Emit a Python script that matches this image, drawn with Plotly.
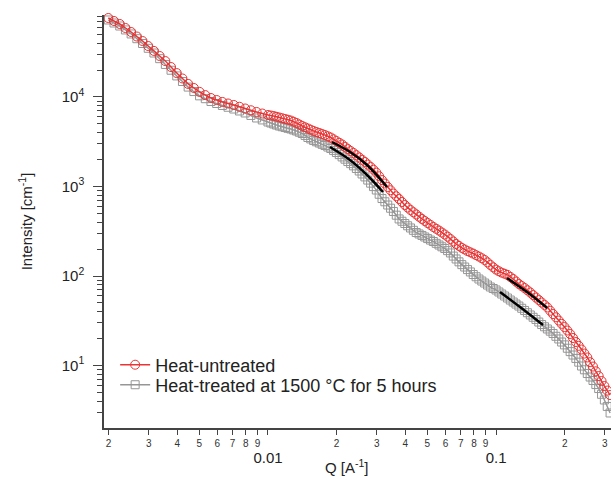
import plotly.graph_objects as go

# ---------------- data ----------------
q = [0.001995, 0.002113, 0.002239, 0.002371, 0.002512, 0.002661, 0.002818, 0.002985,
     0.003162, 0.003350, 0.003548, 0.003758, 0.003981, 0.004217, 0.004467, 0.004732,
     0.005012, 0.005309, 0.005623, 0.005957, 0.006310, 0.006683, 0.007079, 0.007499,
     0.007943, 0.008414, 0.008913, 0.009441, 0.01,
     0.010292, 0.01059, 0.010901, 0.01122, 0.011548, 0.01189, 0.012232, 0.01259,
     0.012957, 0.01334, 0.013725, 0.01413, 0.014538, 0.01496, 0.015399, 0.01585,
     0.016312, 0.01679, 0.017278, 0.01778, 0.018302, 0.01884, 0.019387, 0.01995,
     0.020535, 0.02113, 0.021752, 0.02239, 0.023041, 0.02371, 0.024406, 0.02512,
     0.025852, 0.02661, 0.027384, 0.02818, 0.029007, 0.02985, 0.030726, 0.03162,
     0.032546, 0.0335, 0.034475, 0.03548, 0.036517, 0.03758, 0.038681, 0.03981,
     0.040973, 0.04217, 0.043401, 0.04467, 0.045973, 0.04732, 0.048697, 0.05012,
     0.051582, 0.05309, 0.054639, 0.05623, 0.057876, 0.05957, 0.061306, 0.0631,
     0.064938, 0.06683, 0.068786, 0.07079, 0.072862, 0.07499, 0.077179, 0.07943,
     0.081752, 0.08414, 0.086596, 0.08913, 0.091728, 0.09441, 0.097163, 0.1,
     0.10292, 0.1059, 0.10901, 0.1122, 0.11548, 0.1189, 0.12232, 0.1259,
     0.12957, 0.1334, 0.13725, 0.1413, 0.14538, 0.1496, 0.15399, 0.1585,
     0.16312, 0.1679, 0.17278, 0.1778, 0.18302, 0.1884, 0.19387, 0.1995,
     0.20535, 0.2113, 0.21752, 0.2239, 0.23041, 0.2371, 0.24406, 0.2512,
     0.25852, 0.2661, 0.27384, 0.2818, 0.29007, 0.2985, 0.30726, 0.3162]

untreated = [76300, 70600, 65400, 59000, 53200, 47400, 42200, 37100, 32700, 28700,
             25200, 21600, 18500, 16100, 14000, 12600, 11400, 10500, 9740, 9250,
             8800, 8460, 8140, 7780, 7440, 7110, 6800, 6540, 6290,
             6210, 6130, 6010, 5900, 5790, 5680, 5570, 5460, 5290, 5120,
             4930, 4740, 4590, 4450, 4310, 4170, 4060, 3960, 3860, 3760,
             3640, 3530, 3370, 3220, 3080, 2950, 2780, 2620, 2490, 2370,
             2240, 2110, 1990, 1880, 1760, 1650, 1540, 1430, 1300, 1180,
             1080, 987, 908, 835, 778, 725, 671, 621, 582, 546,
             516, 487, 460, 434, 412, 391, 372, 353, 337, 322,
             306, 291, 275, 259, 243, 228, 217, 206, 198, 190,
             184, 178, 171, 165, 158, 151, 142, 133, 125, 118,
             113, 109, 106, 103, 97.7, 92.6, 86.8, 81.4, 77.3, 73.4,
             69.3, 65.4, 61.3, 57.5, 53.9, 50.6, 47.5, 44.5, 40.9, 37.6,
             34.6, 31.8, 29.2, 26.9, 24.6, 22.5, 20.3, 18.3, 16.6, 15.1,
             13.6, 12.3, 10.9, 9.74, 8.62, 7.63, 6.71, 5.90, 5.25, 4.68]

treated = [72500, 67100, 62100, 56100, 50600, 44800, 39600, 35000, 31000, 26800,
           23100, 19900, 17200, 14900, 12900, 11500, 10300, 9570, 8900, 8460,
           8040, 7680, 7340, 6980, 6630, 6220, 5830, 5540, 5260,
           5120, 4990, 4860, 4740, 4650, 4560, 4470, 4390, 4280, 4170,
           4040, 3910, 3720, 3530, 3400, 3270, 3160, 3060, 2960, 2870,
           2760, 2660, 2530, 2400, 2270, 2140, 2020, 1900, 1800, 1700,
           1590, 1490, 1380, 1280, 1180, 1090, 998, 914, 819, 734,
           675, 621, 572, 526, 478, 434, 409, 386, 364, 344,
           324, 306, 295, 284, 273, 262, 252, 243, 232, 222,
           212, 203, 192, 181, 167, 155, 144, 134, 126, 118,
           111, 104, 98.1, 92.6, 87.9, 83.5, 79.3, 75.4, 72.5, 69.8,
           66.3, 62.9, 59.8, 56.8, 53.9, 51.2, 48.6, 46.2, 43.6, 41.2,
           38.9, 36.7, 34.6, 32.7, 30.6, 28.7, 27.1, 25.6, 24.2, 22.8,
           21.2, 19.8, 18.3, 17.0, 15.6, 14.3, 13.1, 12.0, 10.9, 9.87,
           8.96, 8.14, 7.44, 6.80, 6.13, 5.53, 4.77, 4.12, 3.49, 2.95]

# power-law fit segments (black)
fit1_untreated_q = [0.01909, 0.02289, 0.02718, 0.03325]
fit1_untreated_I = [3142, 2429, 1739, 987]
fit1_treated_q = [0.01871, 0.02289, 0.02718, 0.03194]
fit1_treated_I = [2762, 1978, 1344, 868]
fit2_untreated_q = [0.1117, 0.1368, 0.1674]
fit2_untreated_I = [95.0, 66.2, 43.9]
fit2_treated_q = [0.1041, 0.1274, 0.1607]
fit2_treated_I = [66.2, 45.0, 28.3]

series_names = ["Heat-untreated", "Heat-treated at 1500 °C for 5 hours"]
x_title = "Q [A<sup>-1</sup>]"
y_title = "Intensity [cm<sup>-1</sup>]"

# axis tick definitions
x_decades = [0.001, 0.01, 0.1]
x_decade_labels = ["0.001", "0.01", "0.1"]
digits = [2, 3, 4, 5, 6, 7, 8, 9]
y_decades = [1, 10, 100, 1000, 10000]
y_decade_labels = ["10<sup>0</sup>", "10<sup>1</sup>", "10<sup>2</sup>",
                   "10<sup>3</sup>", "10<sup>4</sup>"]

# ---------------- build ticks ----------------
xtv, xtt = [], []
for d in x_decades:
    xtv.append(d)
    xtt.append(" ")
    for k in digits:
        xtv.append(d * k)
        xtt.append(str(k))

ymin_tv = [d * k for d in y_decades for k in digits]

FONT = "Liberation Sans, Arial, sans-serif"
RED = "rgb(232,52,52)"
GRAY = "rgb(150,150,150)"

fig = go.Figure()
fig.add_trace(go.Scatter(
    x=q, y=treated, mode="lines+markers", name=series_names[1], legend="legend2",
    line=dict(color=GRAY, width=1.5, shape="spline"),
    marker=dict(symbol="square-open", size=8, color=GRAY, line=dict(width=1)),
    cliponaxis=False))
fig.add_trace(go.Scatter(
    x=q, y=untreated, mode="lines+markers", name=series_names[0], legend="legend",
    line=dict(color=RED, width=1.5, shape="spline"),
    marker=dict(symbol="circle-open", size=9, color=RED, line=dict(width=1)),
    cliponaxis=False))
fits = [(fit1_untreated_q, fit1_untreated_I), (fit1_treated_q, fit1_treated_I),
        (fit2_untreated_q, fit2_untreated_I), (fit2_treated_q, fit2_treated_I)]
for i, (fx, fy) in enumerate(fits):
    fig.add_trace(go.Scatter(x=fx, y=fy, mode="lines", showlegend=False,
                             xaxis="x2" if i == 0 else "x",
                             line=dict(color="black", width=2.5, shape="spline")))

legend_font = dict(size=18, family=FONT, color="#222")
fig.update_layout(
    width=611, height=492,
    margin=dict(l=104, r=0, t=15, b=64),
    paper_bgcolor="white", plot_bgcolor="white",
    font=dict(family=FONT, color="#222", size=15),
    showlegend=True,
    legend=dict(x=0.022, y=0.1525, xanchor="left", yanchor="middle",
                bgcolor="rgba(0,0,0,0)", font=legend_font, itemwidth=30),
    legend2=dict(x=0.022, y=0.104, xanchor="left", yanchor="middle",
                 bgcolor="rgba(0,0,0,0)", font=legend_font, itemwidth=30),
    xaxis=dict(
        type="log", range=[-2.719, -0.496], automargin=False,
        showgrid=False, zeroline=False, showline=True, linecolor="#444", linewidth=1.5,
        ticks="outside", ticklen=5, tickwidth=1, tickcolor="#444", tickangle=0,
        tickvals=xtv, ticktext=xtt, tickfont=dict(size=10, family=FONT, color="#333"),
    ),
    xaxis2=dict(
        type="log", range=[-2.719, -0.496], matches="x", overlaying="x", anchor="y",
        side="bottom", automargin=False,
        showgrid=False, zeroline=False, showline=False, ticks="", tickangle=0,
        tickvals=x_decades, ticktext=x_decade_labels, ticklabelstandoff=19,
        tickfont=dict(size=15, family=FONT, color="#222"),
    ),
    yaxis=dict(
        type="log", range=[0.302, 4.916], automargin=False,
        showgrid=False, zeroline=False, showline=True, linecolor="#444", linewidth=1.5,
        ticks="outside", ticklen=9, tickwidth=1, tickcolor="#444", ticklabelstandoff=6,
        tickvals=y_decades, ticktext=y_decade_labels,
        tickfont=dict(size=15, family=FONT, color="#222"),
        minor=dict(tickvals=ymin_tv, ticks="outside", ticklen=5, tickcolor="#444",
                   tickwidth=1, showgrid=False),
        title=dict(text=y_title, font=dict(size=15, family=FONT, color="#222"),
                   standoff=25),
    ),
    annotations=[dict(text=x_title, xref="paper", yref="paper", x=0.479, y=-0.0944,
                      xanchor="center", yanchor="middle", showarrow=False,
                      font=dict(size=15, family=FONT, color="#222"))],
)

fig.write_html("out.html", config={"displayModeBar": False},
               post_script="document.body.style.margin='0';")
